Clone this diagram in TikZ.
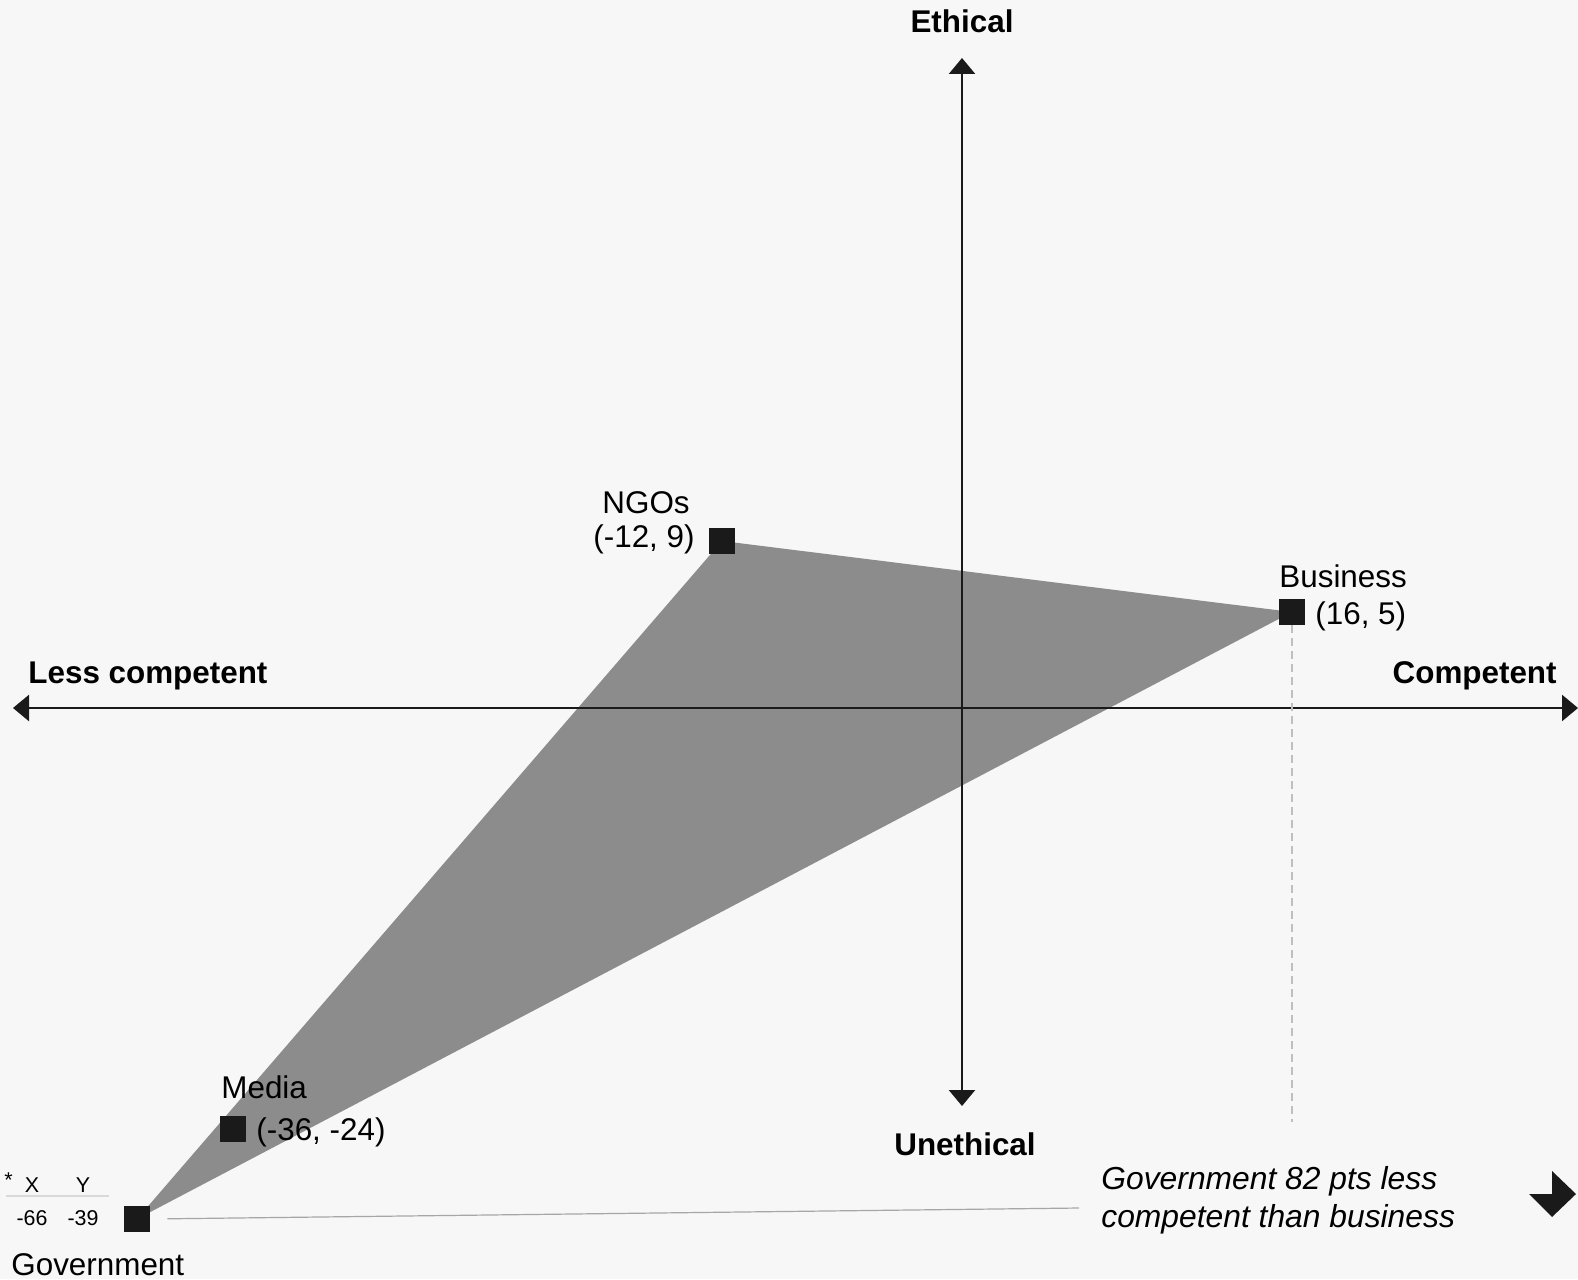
\documentclass[tikz,border=0pt]{standalone}
\usepackage{fontspec}
\setmainfont{Liberation Sans}
\usetikzlibrary{arrows.meta}

\definecolor{paper}{HTML}{F7F7F7}
\definecolor{ink}{HTML}{1A1A1A}
\definecolor{wedge}{HTML}{8C8C8C}

\begin{document}
\begin{tikzpicture}[x=0.5pt,y=-0.5pt,
    marker/.style={rectangle,fill=ink,minimum size=13pt,inner sep=0pt},
    axis/.style={ink,line width=1.25pt,{Triangle[length=8pt,width=13pt]}-{Triangle[length=8pt,width=13pt]}},
    lbl/.style={inner sep=0pt,font=\fontsize{15.7}{19}\selectfont},
    axislbl/.style={inner sep=0pt,font=\fontsize{15.7}{19}\selectfont\bfseries},
    note/.style={inner sep=0pt,align=left,font=\fontsize{15.9}{19}\selectfont\itshape},
    legend/.style={inner sep=0pt,font=\fontsize{10.7}{13}\selectfont}]
        \fill[paper] (0,0) rectangle (1578,1279);
        \useasboundingbox (0,0) rectangle (1578,1279);
        % data points
        \foreach \name/\x/\y in {ngo/722/541,biz/1292/612,med/233/1129,gov/137/1219} {
            \coordinate (p-\name) at (\x,\y);
          }
        \fill[wedge] (p-ngo) -- (p-biz) -- (p-gov) -- cycle;
        % axes
        \coordinate (west) at (13,708);
        \coordinate (east) at (1578,708);
        \coordinate (north) at (962,58);
        \coordinate (south) at (962,1106);
        \draw[axis] (west) -- (east);
        \draw[axis] (south) -- (north);
        \node[axislbl,anchor=base] (ethical) at (962,33) {Ethical};
        \node[axislbl,anchor=base] (unethical) at (965,1155) {Unethical};
        \node[axislbl,anchor=base west] (lesscomp) at (28,683) {Less competent};
        \node[axislbl,anchor=base east] (comp) at (1557,683) {Competent};
        % markers
        \foreach \name in {ngo,biz,med,gov} {
            \node[marker] (\name) at (p-\name) {};
          }
        \coordinate (dashend) at (1292,1122);
        \draw[gray!50,line width=0.6pt,dash pattern=on 4pt off 2.5pt] (biz.south) -- (dashend);
        \node[lbl,anchor=base west] (ngoname) at (602,513) {NGOs};
        \node[lbl,anchor=base east] (ngoval) at (695,547) {(-12, 9)};
        \node[lbl,anchor=base west] (bizname) at (1279,587) {Business};
        \node[lbl,anchor=base west] (bizval) at (1315,624) {(16, 5)};
        \node[lbl,anchor=base west] (medname) at (221,1098) {Media};
        \node[lbl,anchor=base west] (medval) at (256,1140) {(-36, -24)};
        \node[lbl,anchor=base west] (govname) at (11,1275) {Government};
        % legend
        \node[legend,anchor=base west] (star) at (4,1187) {*};
        \node[legend,anchor=base] (xhead) at (32,1192) {X};
        \node[legend,anchor=base] (yhead) at (83,1192) {Y};
        \draw[gray!30,line width=1.2pt] (6,1196) -- (109,1196);
        \node[legend,anchor=base] (xval) at (32,1225) {-66};
        \node[legend,anchor=base] (yval) at (83,1225) {-39};
        % note
        \node[note,anchor=base west] (gap) at (1101,1227) {Government 82 pts less\\competent than business};
        \coordinate (leadend) at (1079,1208);
        \draw[gray!70,line width=0.6pt,shorten <=8.5pt] (gov.east) -- (leadend);
        \fill[ink] (1529,1194) -- (1552,1194) -- (1552,1171) -- (1576,1194) -- (1552,1217) -- cycle;
      \end{tikzpicture}
\end{document}
